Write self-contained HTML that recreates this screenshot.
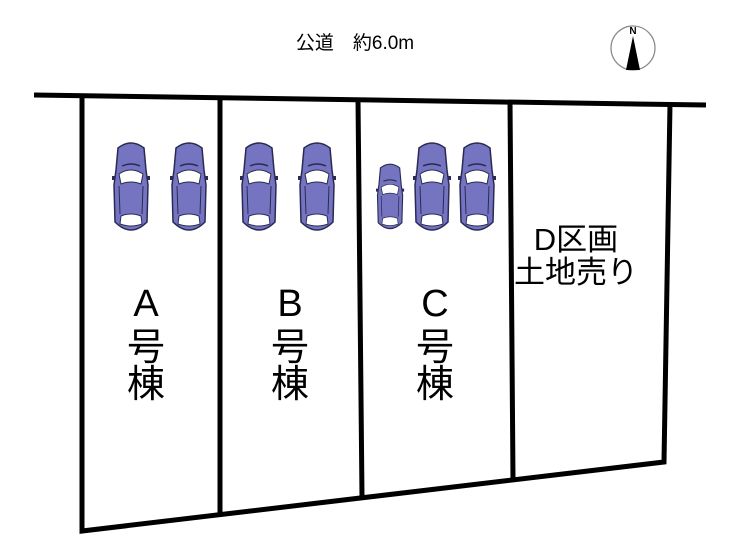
<!DOCTYPE html>
<html><head><meta charset="utf-8"><style>
body{margin:0;background:#fff}
svg{display:block}
text{font-family:"Liberation Sans","Noto Sans CJK JP",sans-serif;fill:#000}
</style></head><body>
<svg width="740" height="560" viewBox="0 0 740 560">
<defs>
<g id="car">
<path d="M6,8 Q19,-2 32,8 L34,30 L36,45 L35,82 Q19,98 3,82 L2,45 L4,30 Z" fill="#7474c0" stroke="#2a2a55" stroke-width="1.5"/>
<path d="M7,34 Q19,26 31,34 L29,44 Q19,40 9,44 Z" fill="#fff" stroke="#2a2a55" stroke-width="1"/>
<path d="M9,76 Q19,72 29,76 L30,84 Q19,88 8,84 Z" fill="#fff" stroke="#2a2a55" stroke-width="1"/>
<path d="M10,26 Q19,22 28,26" fill="none" stroke="#2a2a55" stroke-width="1.5"/>
<path d="M7,46 L8,74 M31,46 L30,74" fill="none" stroke="#2a2a55" stroke-width="1"/>
<rect x="0" y="36" width="3" height="4" fill="#2a2a55"/><rect x="35" y="36" width="3" height="4" fill="#2a2a55"/>
</g>
</defs>
<text x="355" y="49" font-size="19" text-anchor="middle">公道　約6.0m</text>
<circle cx="633" cy="48" r="22" fill="none" stroke="#888" stroke-width="1.2"/>
<text x="633" y="34" font-size="10" text-anchor="middle" font-family="Liberation Serif" font-weight="bold">N</text>
<polygon points="633,36 626,70 640,70" fill="#000"/>
<g stroke="#000" stroke-width="5" fill="none" stroke-linejoin="miter">
<line x1="34" y1="95" x2="706" y2="105"/>
<polyline points="82,96 82,531 664,462 670,104"/>
<line x1="220" y1="97" x2="220" y2="514"/>
<line x1="358" y1="99" x2="362" y2="497"/>
<line x1="510" y1="101" x2="513" y2="479"/>
</g>
<use href="#car" x="112" y="140"/>
<use href="#car" x="170" y="140"/>
<use href="#car" x="240" y="140"/>
<use href="#car" x="298" y="140"/>
<use href="#car" transform="translate(376,162) scale(0.74,0.74)"/>
<use href="#car" x="413" y="140"/>
<use href="#car" x="458" y="140"/>
<g font-size="38" text-anchor="middle">
<text x="146" y="316">A</text><text x="146" y="360">号</text><text x="146" y="397">棟</text>
<text x="290" y="316">B</text><text x="290" y="360">号</text><text x="290" y="397">棟</text>
<text x="435" y="316">C</text><text x="435" y="360">号</text><text x="435" y="397">棟</text>
</g>
<g font-size="31" text-anchor="middle">
<text x="576" y="250">D区画</text>
<text x="576" y="283">土地売り</text>
</g>
</svg>
</body></html>
